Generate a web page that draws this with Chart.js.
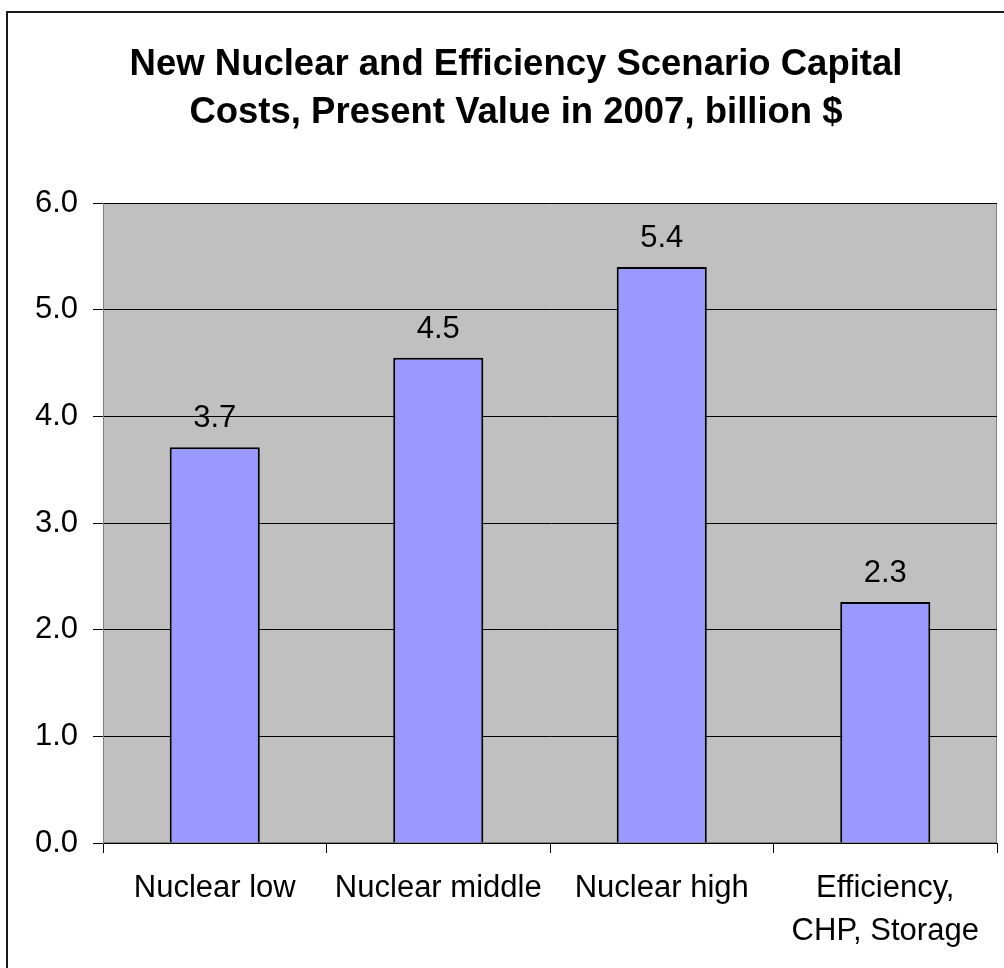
<!DOCTYPE html>
<html>
<head>
<meta charset="utf-8">
<script src="https://cdn.jsdelivr.net/npm/chart.js@4.4.1/dist/chart.umd.min.js"></script>
<style>
  html, body { margin: 0; padding: 0; background: #fff; overflow: hidden; }
  .frame { position: absolute; left: 6px; top: 11px; width: 1016px; height: 980px; border: 2px solid #1a1a1a; }
  canvas { display: block; }
</style>
</head>
<body>
<div class="frame">
  <canvas id="chart" width="1016" height="980"></canvas>
</div>
<script>
const categories = ["Nuclear low", "Nuclear middle", "Nuclear high", ["Efficiency,", "CHP, Storage"]]
const capitalCosts = [3.71, 4.55, 5.40, 2.26]
const titleLines = ["New Nuclear and Efficiency Scenario Capital", "Costs, Present Value in 2007, billion $"]
const yTicks = [0, 1, 2, 3, 4, 5, 6]

const FONT = "'Liberation Sans', Arial, sans-serif"

// gray plot background with a gray frame
const plotBackground = {
  id: "plotBackground",
  beforeDraw(chart) {
    const { ctx, chartArea: a } = chart
    ctx.save()
    ctx.fillStyle = "#c0c0c0"
    ctx.fillRect(a.left, a.top, a.right - a.left, a.bottom - a.top)
    ctx.strokeStyle = "#808080"
    ctx.lineWidth = 1
    ctx.strokeRect(a.left + 0.5, a.top + 0.5, a.right - a.left - 1, a.bottom - a.top - 1)
    ctx.restore()
  },
}

// value labels above the bars
const barLabels = {
  id: "barLabels",
  afterDatasetsDraw(chart) {
    const { ctx } = chart
    const meta = chart.getDatasetMeta(0)
    ctx.save()
    ctx.font = "31px " + FONT
    ctx.fillStyle = "#000"
    ctx.textAlign = "center"
    ctx.textBaseline = "alphabetic"
    meta.data.forEach((bar, i) => {
      ctx.fillText(capitalCosts[i].toFixed(1), bar.x, bar.y - 20)
    })
    ctx.restore()
  },
}

new Chart(document.getElementById("chart").getContext("2d"), {
  type: "bar",
  data: {
    labels: categories,
    datasets: [
      {
        data: capitalCosts,
        backgroundColor: "#9999ff",
        borderColor: "#000",
        borderWidth: 2,
        categoryPercentage: 1,
        barPercentage: 0.403,
      },
    ],
  },
  options: {
    responsive: false,
    animation: false,
    devicePixelRatio: 1,
    layout: { padding: { left: 27, right: 27, top: 0, bottom: 0 } },
    plugins: {
      legend: { display: false },
      tooltip: { enabled: false },
      title: {
        display: true,
        text: titleLines,
        color: "#000",
        font: { family: FONT, size: 36.5, weight: "bold", lineHeight: 48 / 36.5 },
        padding: { top: 28, bottom: 66 },
      },
    },
    scales: {
      x: {
        grid: {
          display: true,
          drawOnChartArea: false,
          drawTicks: true,
          tickLength: 10,
          tickColor: "#000",
          offset: true,
        },
        border: { display: true, color: "#000", width: 1 },
        ticks: {
          color: "#000",
          font: { family: FONT, size: 31, lineHeight: 43 / 31 },
          padding: 14,
          maxRotation: 0,
          autoSkip: false,
        },
        afterFit(scale) {
          scale.height = 150
        },
      },
      y: {
        min: yTicks[0],
        max: yTicks[yTicks.length - 1],
        afterBuildTicks(scale) {
          scale.ticks = yTicks.map((v) => ({ value: v }))
        },
        grid: {
          color: "#000",
          lineWidth: 1,
          drawTicks: true,
          tickLength: 10,
          tickColor: "#000",
        },
        border: { display: true, color: "#808080", width: 1 },
        ticks: {
          color: "#000",
          font: { family: FONT, size: 31 },
          padding: 15,
          callback: (v) => Number(v).toFixed(1),
        },
        afterFit(scale) {
          scale.width = 68
        },
      },
    },
  },
  plugins: [plotBackground, barLabels],
})
</script>
</body>
</html>
